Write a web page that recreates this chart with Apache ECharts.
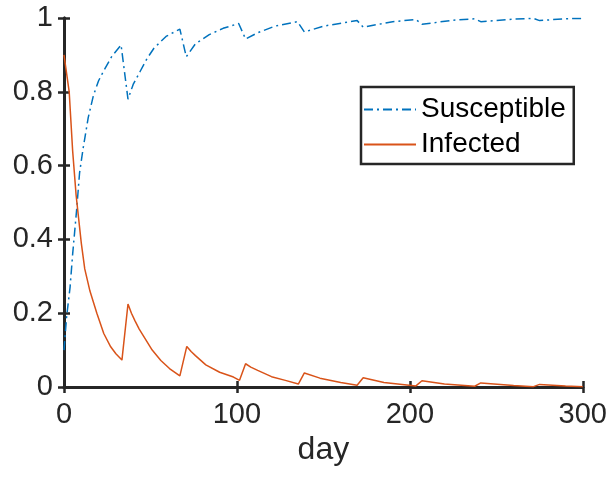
<!DOCTYPE html>
<html>
<head>
<meta charset="utf-8">
<script src="https://cdn.jsdelivr.net/npm/echarts@6/dist/echarts.min.js"></script>
<style>
  html, body { margin: 0; padding: 0; background: #fff; }
  #main { width: 610px; height: 482px; }
</style>
</head>
<body>
<div id="main"></div>
<script>
// values
var xTicks = [0, 100, 200, 300];
var yTicks = [0, 0.2, 0.4, 0.6, 0.8, 1];

var susDays = [0, 1.5, 3.5, 5, 7.3, 9, 11, 14, 17, 20, 23, 27.5, 33, 37, 40, 44, 48, 52, 59, 67,
  70.7, 76, 84, 92, 101, 105, 112, 122, 135, 139, 150, 169.5, 173, 190, 203.5, 207, 225, 237.5,
  241, 260, 271.5, 275, 290, 300];
var susValues = [0.10, 0.19, 0.27, 0.36, 0.48, 0.58, 0.645, 0.73, 0.79, 0.83, 0.857, 0.895, 0.927,
  0.78, 0.82, 0.855, 0.89, 0.918, 0.95, 0.97, 0.895, 0.93, 0.955, 0.972, 0.985, 0.943, 0.96, 0.978,
  0.99, 0.962, 0.978, 0.993, 0.975, 0.99, 0.996, 0.983, 0.994, 0.998, 0.99, 0.997, 0.999, 0.993,
  0.998, 0.999];

var infDays = [0, 3, 5, 7, 10, 12, 15, 19, 23, 27, 30, 33.5, 37, 39, 41, 43.5, 46, 51, 56, 61, 67, 71,
  73.5, 76, 82, 90, 98, 101.5, 105, 108, 112, 120, 128, 135.5, 139, 148, 160, 169.5, 173, 185, 203.5,
  207, 220, 237.5, 241, 260, 271.5, 275, 290, 300];
var infValues = [0.90, 0.80, 0.64, 0.52, 0.39, 0.32, 0.26, 0.20, 0.145, 0.109, 0.09, 0.073, 0.225,
  0.20, 0.18, 0.157, 0.138, 0.10, 0.072, 0.05, 0.030, 0.110, 0.096, 0.085, 0.06, 0.04, 0.027, 0.018,
  0.063, 0.054, 0.045, 0.028, 0.018, 0.008, 0.038, 0.024, 0.012, 0.005, 0.025, 0.012, 0.003, 0.017,
  0.008, 0.002, 0.011, 0.004, 0.001, 0.007, 0.003, 0.001];

function zip(xs, ys) {
  return xs.map(function (x, i) { return [x, ys[i]]; });
}

var axisColor = '#262626';
var fontFamily = 'Liberation Sans, Arial, sans-serif';

var chart = echarts.init(document.getElementById('main'));

// main axes + mirrored axes for the MATLAB box with inside ticks
function xAxisDef(pos, showLabel) {
  return {
    type: 'value', position: pos, min: 0, max: 300, interval: 100,
    name: showLabel ? 'day' : '', nameLocation: 'middle', nameGap: 46,
    nameTextStyle: { fontSize: 32, color: axisColor, fontFamily: fontFamily },
    axisLine: { show: true, lineStyle: { color: axisColor, width: 3 } },
    axisTick: { show: true, inside: true, length: 6, lineStyle: { color: axisColor, width: 2.5 } },
    axisLabel: { show: showLabel, fontSize: 29, color: axisColor, margin: 13, fontFamily: fontFamily },
    splitLine: { show: false }
  };
}
function yAxisDef(pos, showLabel) {
  return {
    type: 'value', position: pos, min: 0, max: 1, interval: 0.2,
    axisLine: { show: true, lineStyle: { color: axisColor, width: 3 } },
    axisTick: { show: true, inside: true, length: 6, lineStyle: { color: axisColor, width: 2.5 } },
    axisLabel: { show: showLabel, fontSize: 29, color: axisColor, margin: 11, fontFamily: fontFamily },
    splitLine: { show: false }
  };
}

var option = {
  animation: false,
  backgroundColor: '#fff',
  grid: { left: 64, right: 27, top: 18, bottom: 95 },
  xAxis: [xAxisDef('bottom', true), xAxisDef('top', false)],
  yAxis: [yAxisDef('left', true), yAxisDef('right', false)],
  legend: {
    orient: 'vertical', left: 361, top: 87,
    padding: [7, 8, 4, 2], itemGap: 4, itemWidth: 52, itemHeight: 14,
    borderColor: axisColor, borderWidth: 2.5, backgroundColor: '#fff',
    textStyle: { fontSize: 28, color: '#000', fontFamily: fontFamily, lineHeight: 31 },
    data: [
      { name: 'Susceptible', itemStyle: { opacity: 0 } },
      { name: 'Infected', itemStyle: { opacity: 0 } }
    ]
  },
  series: [
    {
      name: 'Susceptible', type: 'line', symbol: 'none', showSymbol: false,
      data: zip(susDays, susValues),
      itemStyle: { color: '#0072BD' },
      lineStyle: { color: '#0072BD', width: 1.5, type: [9, 4, 2, 4] }
    },
    {
      name: 'Infected', type: 'line', symbol: 'none', showSymbol: false,
      data: zip(infDays, infValues),
      itemStyle: { color: '#D95319' },
      lineStyle: { color: '#D95319', width: 1.5 }
    }
  ]
};
chart.setOption(option);
</script>
</body>
</html>
